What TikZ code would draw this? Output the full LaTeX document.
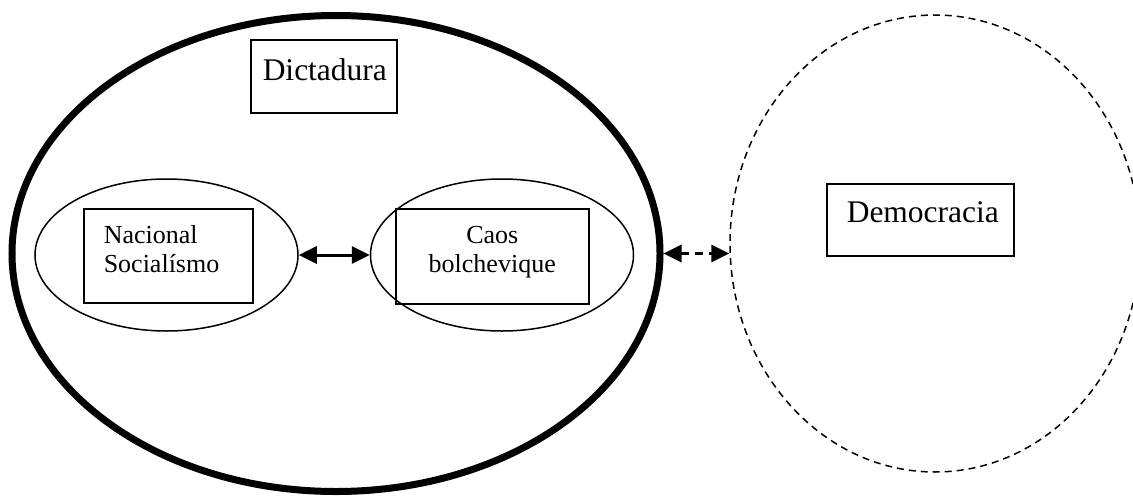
\documentclass[tikz,border=0pt]{standalone}
\usepackage{fontspec}
\setmainfont{Liberation Serif}
\usetikzlibrary{shapes.geometric,arrows.meta}
\begin{document}
\begin{tikzpicture}[x=1pt,y=-1pt,
  bigoval/.style={ellipse,draw,line width=7pt,inner sep=0pt,minimum width=648pt,minimum height=476pt},
  smalloval/.style={ellipse,draw,line width=1.5pt,inner sep=0pt,minimum width=263pt,minimum height=152pt},
  demooval/.style={ellipse,draw,line width=1.5pt,dash pattern=on 7pt off 5pt,inner sep=0pt,minimum width=410pt,minimum height=457pt},
  labelbox/.style={draw,line width=1.5pt,inner xsep=0pt,inner ysep=0pt,anchor=north west},
  bigtext/.style={font=\fontsize{31.5}{36}\selectfont},
  smalltext/.style={font=\fontsize{26}{29}\selectfont},
  link/.style={line width=3pt,{Triangle[length=18pt,width=17pt]}-{Triangle[length=18pt,width=17pt]}},
  dlink/.style={link,dash pattern=on 8pt off 6pt}
]
\useasboundingbox (0,0) rectangle (1133,498);
\clip (0,0) rectangle (1133,498);
\fill[white] (0,0) rectangle (1133,498);

\node[bigoval] (dict) at (336,253.5) {};
\node[demooval] (demo) at (935,243.5) {};
\node[smalloval] (ns) at (166.5,255) {};
\node[smalloval] (cb) at (502,255) {};

\node[labelbox,bigtext,text width=146pt,align=left,text height=41pt,text depth=32pt] (dictbox) at (250,39) {\hspace*{12pt}Dictadura};
\node[labelbox,bigtext,text width=187pt,align=left,text height=39pt,text depth=33pt] (demobox) at (826,183) {\hspace*{20pt}Democracia};
\node[labelbox,smalltext,text width=169pt,align=left,text height=35pt,text depth=59pt] (nsbox) at (83,208) {\hspace*{20pt}Nacional\\\hspace*{20pt}Socialísmo};
\node[labelbox,smalltext,text width=193pt,align=center,text height=35pt,text depth=60pt] (cbbox) at (395,208) {Caos\\bolchevique};

\draw[link] (ns.east) -- (cb.west);
\coordinate (demoleft) at (dict.east -| demo.west);
\draw[dlink] (dict.east) -- (demoleft);
\end{tikzpicture}
\end{document}
